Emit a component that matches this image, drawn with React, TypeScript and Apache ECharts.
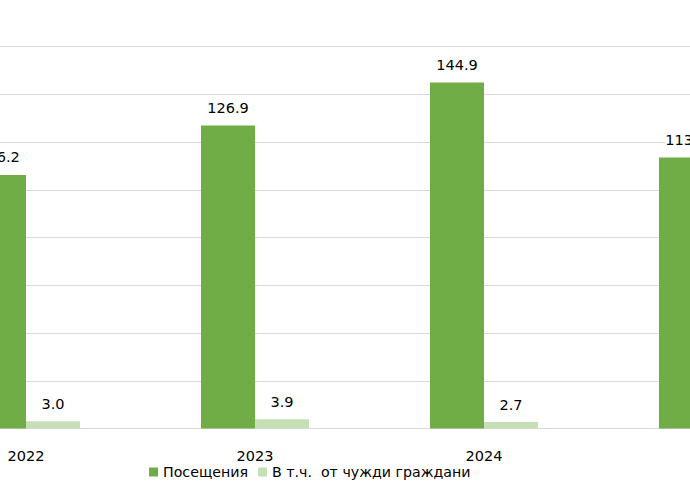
import * as React from "react";
import * as echarts from "echarts";
import { useEffect, useRef } from "react";

const years = ["2022", "2023", "2024", "2025"];
const visits = [106.2, 126.9, 144.9, 113.5];
const foreigners = [3.0, 3.9, 2.7, 3.2];

const FONT = "DejaVu Sans, Verdana, sans-serif";

const App = () => {
  const chartRef = useRef<HTMLDivElement>(null);

  useEffect(() => {
    if (!chartRef.current) return;
    const myChart = echarts.init(chartRef.current, undefined, { renderer: "svg" });

    const label = {
      show: true,
      position: "top",
      distance: 10,
      color: "#000",
      fontFamily: FONT,
      fontSize: 14.5,
      backgroundColor: "#fff",
      formatter: (p: any) => Number(p.value).toFixed(1),
    };

    const option = {
      animation: false,
      textStyle: { fontFamily: FONT },
      grid: { left: 11.5, width: 916, top: 46.5, height: 382 },
      legend: {
        left: 244,
        top: 460,
        itemWidth: 9,
        itemHeight: 9,
        itemGap: 10,
        icon: "rect",
        textStyle: { fontFamily: FONT, fontSize: 14.2, color: "#000" },
        data: ["Посещения", "В т.ч.\u00a0 от чужди граждани"],
      },
      xAxis: {
        type: "category",
        data: years,
        axisLine: { lineStyle: { color: "#d9d9d9", width: 1 } },
        axisTick: { show: false },
        axisLabel: { color: "#000", fontFamily: FONT, fontSize: 14.5, margin: 20 },
      },
      yAxis: {
        type: "value",
        min: 0,
        max: 160,
        interval: 20,
        axisLabel: { show: false },
        axisLine: { show: false },
        axisTick: { show: false },
        splitLine: { lineStyle: { color: "#d9d9d9", width: 1 } },
      },
      series: [
        {
          name: "Посещения",
          type: "bar",
          data: visits,
          barWidth: 54,
          barGap: "0%",
          itemStyle: { color: "#70ad47" },
          label,
        },
        {
          name: "В т.ч.\u00a0 от чужди граждани",
          type: "bar",
          data: foreigners,
          barWidth: 54,
          barGap: "0%",
          itemStyle: { color: "#c5e0b4" },
          label,
        },
      ],
    };

    myChart.setOption(option as any, true);

    return () => {
      myChart.dispose();
    };
  }, []);

  return (
    <div
      style={{
        position: "fixed",
        left: 0,
        top: 0,
        width: 690,
        height: 497,
        overflow: "hidden",
        background: "#fff",
      }}
    >
      <div
        ref={chartRef}
        style={{ position: "absolute", left: -100, top: 0, width: 1000, height: 497 }}
      />
    </div>
  );
};

export default App;
